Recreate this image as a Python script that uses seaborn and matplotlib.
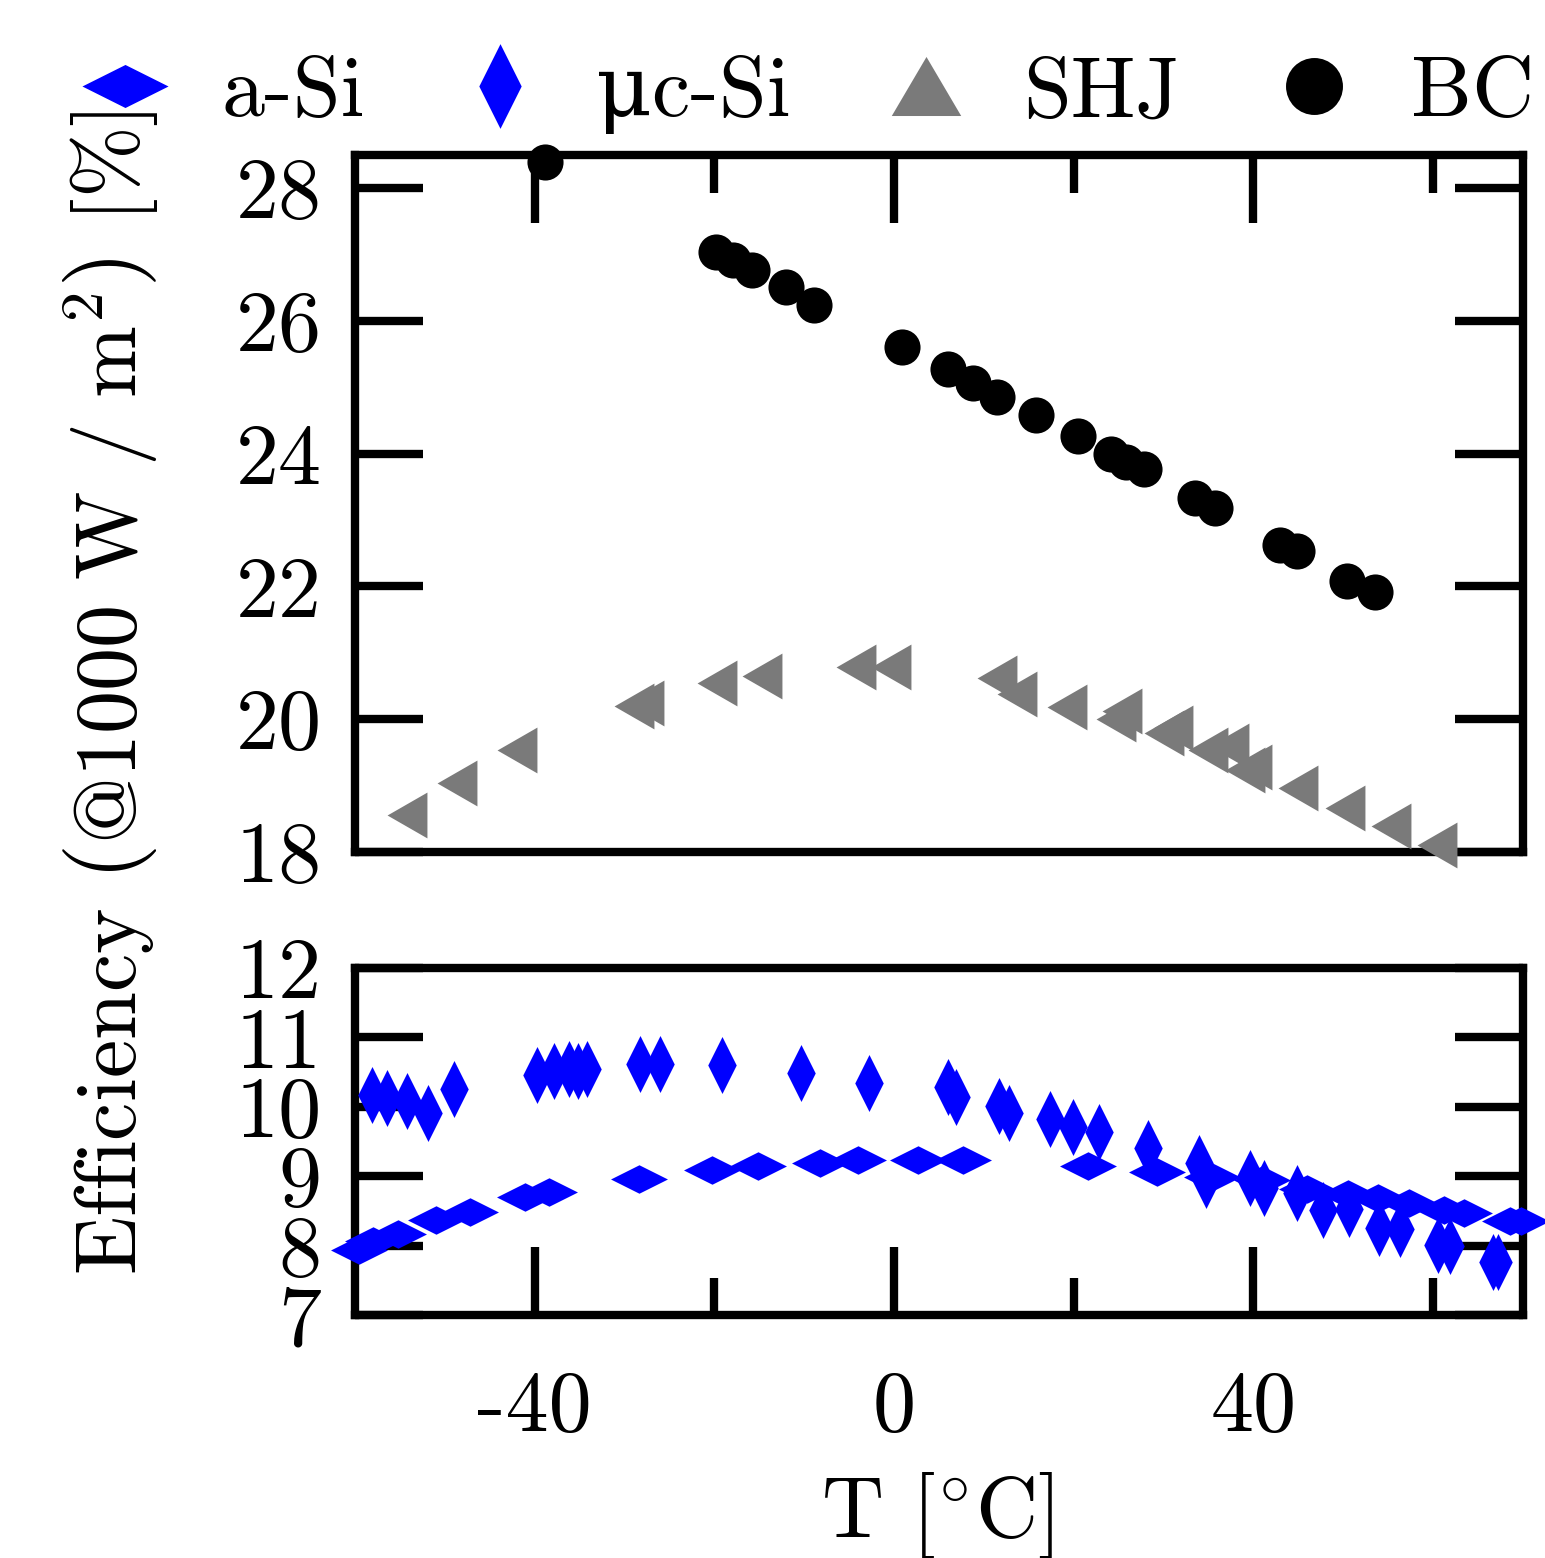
"""
Temperature dependence of module efficiency for four silicon technologies.
Top panel: crystalline (SHJ, BC); bottom panel: thin film (a-Si, uc-Si).
"""

import matplotlib
matplotlib.use("Agg")
import matplotlib.pyplot as plt
from matplotlib.lines import Line2D
import seaborn as sns
import pandas as pd

# --- data -----------------------------------------------------------------
bc_T = [-38.8, -19.8, -17.9, -15.8, -12.0, -8.9, 0.9, 6.0, 8.8, 11.5, 15.8,
        20.5, 24.1, 25.8, 27.8, 33.5, 35.7, 42.9, 44.8, 50.4, 53.5]
bc_eff = [28.40, 27.04, 26.92, 26.77, 26.51, 26.24, 25.61, 25.27, 25.06, 24.85,
          24.58, 24.26, 24.00, 23.88, 23.77, 23.34, 23.18, 22.62, 22.54, 22.08, 21.92]

shj_T = [-54.2, -48.6, -42.0, -29.0, -27.8, -19.7, -14.7, -4.2, -0.3, 11.5,
         13.7, 19.3, 24.7, 25.4, 30.0, 31.0, 34.9, 37.3, 39.1, 39.8, 45.0,
         50.2, 55.3, 60.4]
shj_eff = [18.56, 19.04, 19.53, 20.20, 20.24, 20.55, 20.65, 20.79, 20.79, 20.62,
           20.38, 20.19, 20.01, 20.12, 19.80, 19.87, 19.53, 19.59, 19.23, 19.28,
           18.97, 18.67, 18.39, 18.10]

asi_T = [-59.5, -58.0, -55.2, -51.0, -47.2, -41.1, -38.4, -28.4, -20.3, -15.1,
         -8.3, -4.0, 2.7, 7.7, 21.6, 29.3, 35.4, 41.0, 46.0, 50.5, 53.9, 57.3,
         61.2, 63.4, 68.6, 69.8]
asi_eff = [7.94, 8.07, 8.16, 8.37, 8.48, 8.70, 8.77, 8.96, 9.09, 9.14, 9.19,
           9.23, 9.23, 9.23, 9.15, 9.06, 8.99, 8.95, 8.82, 8.74, 8.68, 8.61,
           8.52, 8.47, 8.36, 8.35]

usi_T = [-58.1, -56.4, -54.2, -51.9, -49.0, -39.7, -37.9, -36.2, -35.2, -34.2,
         -28.3, -26.0, -19.1, -10.4, -2.75, 6.0, 6.85, 11.7, 12.8, 17.3, 19.9,
         22.8, 28.3, 33.9, 34.7, 39.6, 41.2, 44.9, 47.7, 50.6, 54.0, 56.3, 60.5,
         61.9, 66.7, 67.2]
usi_eff = [10.17, 10.12, 10.08, 9.91, 10.26, 10.46, 10.52, 10.55, 10.52, 10.55,
           10.61, 10.61, 10.60, 10.48, 10.35, 10.28, 10.14, 10.01, 9.91, 9.82,
           9.71, 9.63, 9.40, 9.19, 8.94, 8.97, 8.83, 8.76, 8.51, 8.53, 8.25,
           8.24, 8.01, 8.00, 7.77, 7.76]

x_major = [-40, 0, 40]
x_major_labels = ["-40", "0", "40"]
x_minor = [-20, 20, 60]
top_yticks = [18, 20, 22, 24, 26, 28]
bot_yticks = [7, 8, 9, 10, 11, 12]

# marker shapes (custom vertex lists)
wide_diamond = [(-1, 0), (0, 0.5), (1, 0), (0, -0.5)]
tall_diamond = [(-0.5, 0), (0, 1), (0.5, 0), (0, -1)]
left_tri = [(-0.87, 0), (0.87, 1), (0.87, -1)]
up_tri = [(-1, -0.85), (0, 0.85), (1, -0.85)]

BLUE = "#0000ff"
GRAY = "#7a7a7a"
FS = 62

sns.set_theme(style="ticks")
plt.rcParams["font.family"] = ["cmr10", "DejaVu Serif"]
plt.rcParams["mathtext.fontset"] = "cm"
plt.rcParams["axes.unicode_minus"] = False
plt.rcParams["axes.formatter.use_mathtext"] = True
# seaborn greys out text and ticks; the reference is pure black
for key in ("text.color", "axes.labelcolor", "xtick.color", "ytick.color",
            "axes.edgecolor", "xtick.labelcolor", "ytick.labelcolor"):
    plt.rcParams[key] = "black"

W, H = 1545, 1558
fig = plt.figure(figsize=(W / 100, H / 100), dpi=100)
ax_top = fig.add_axes([355 / W, 1 - 852 / H, 1168 / W, 697 / H])
ax_bot = fig.add_axes([355 / W, 1 - 1315 / H, 1168 / W, 347 / H])

df_bc = pd.DataFrame({"T": bc_T, "eff": bc_eff})
df_shj = pd.DataFrame({"T": shj_T, "eff": shj_eff})
df_asi = pd.DataFrame({"T": asi_T, "eff": asi_eff})
df_usi = pd.DataFrame({"T": usi_T, "eff": usi_eff})

common = dict(linewidth=0, clip_on=False, zorder=5, legend=False)
sns.scatterplot(data=df_shj, x="T", y="eff", ax=ax_top, marker=left_tri,
                s=33 ** 2, color=GRAY, **common)
sns.scatterplot(data=df_bc, x="T", y="eff", ax=ax_top, marker="o",
                s=26 ** 2, color="black", **common)
sns.scatterplot(data=df_asi, x="T", y="eff", ax=ax_bot, marker=wide_diamond,
                s=41 ** 2, color=BLUE, **common)
sns.scatterplot(data=df_usi, x="T", y="eff", ax=ax_bot, marker=tall_diamond,
                s=41 ** 2, color=BLUE, **common)

ax_top.set_ylim(18, 28.5)
ax_bot.set_ylim(7, 12)

for ax, yt in ((ax_top, top_yticks), (ax_bot, bot_yticks)):
    ax.set_xlim(-60, 70)
    ax.set_xlabel("")
    ax.set_ylabel("")
    for sp in ax.spines.values():
        sp.set_visible(True)
        sp.set_linewidth(6)
        sp.set_color("black")
    ax.set_xticks(x_major)
    ax.set_xticks(x_minor, minor=True)
    ax.set_yticks(yt)
    ax.set_yticklabels([str(v) for v in yt])
    ax.tick_params(axis="y", which="major", direction="in", length=49, width=6,
                   left=True, right=True, labelsize=FS, pad=24, color="black",
                   labelcolor="black")
    ax.tick_params(axis="y", which="minor", left=False, right=False)

# top panel: x ticks on upper spine only, no labels
ax_top.tick_params(axis="x", which="major", direction="in", length=49, width=6,
                   top=True, bottom=False, labeltop=False, labelbottom=False,
                   color="black")
ax_top.tick_params(axis="x", which="minor", direction="in", length=27, width=6,
                   top=True, bottom=False, color="black")
# bottom panel: x ticks on lower spine, labelled
ax_bot.set_xticklabels(x_major_labels)
ax_bot.tick_params(axis="x", which="major", direction="in", length=49, width=6,
                   top=False, bottom=True, labelsize=FS, pad=40, color="black",
                   labelcolor="black")
ax_bot.tick_params(axis="x", which="minor", direction="in", length=27, width=6,
                   top=False, bottom=True, color="black")

# axis titles
fig.text(937 / W, 1 - 1537 / H, r"T [$^{\circ}$C]", fontsize=FS,
         ha="center", va="baseline", color="black")
fig.text(111 / W, 1 - 693 / H,
         r"Efficiency $\left(\mathrm{@1000\ W\ /\ m}^{2}\right)$ [%]",
         fontsize=FS, rotation=90, ha="center", va="center", color="black")

# legend row above the plots
handles = [
    Line2D([], [], linestyle="none", marker=wide_diamond, markersize=62,
           markerfacecolor=BLUE, markeredgewidth=0),
    Line2D([], [], linestyle="none", marker=tall_diamond, markersize=61,
           markerfacecolor=BLUE, markeredgewidth=0),
    Line2D([], [], linestyle="none", marker=up_tri, markersize=50,
           markerfacecolor=GRAY, markeredgewidth=0),
    Line2D([], [], linestyle="none", marker="o", markersize=41,
           markerfacecolor="black", markeredgewidth=0),
]
labels = ["a-Si", "μc-Si", "SHJ", "BC"]
leg = fig.legend(handles, labels, loc="center",
                 bbox_to_anchor=(808 / W, 1 - 95 / H),
                 ncol=4, frameon=False, fontsize=FS, handlelength=1.0,
                 handletextpad=0.62, columnspacing=1.07, borderpad=0,
                 borderaxespad=0)
for t in leg.get_texts():
    t.set_color("black")

fig.savefig("out.png", dpi=100)
